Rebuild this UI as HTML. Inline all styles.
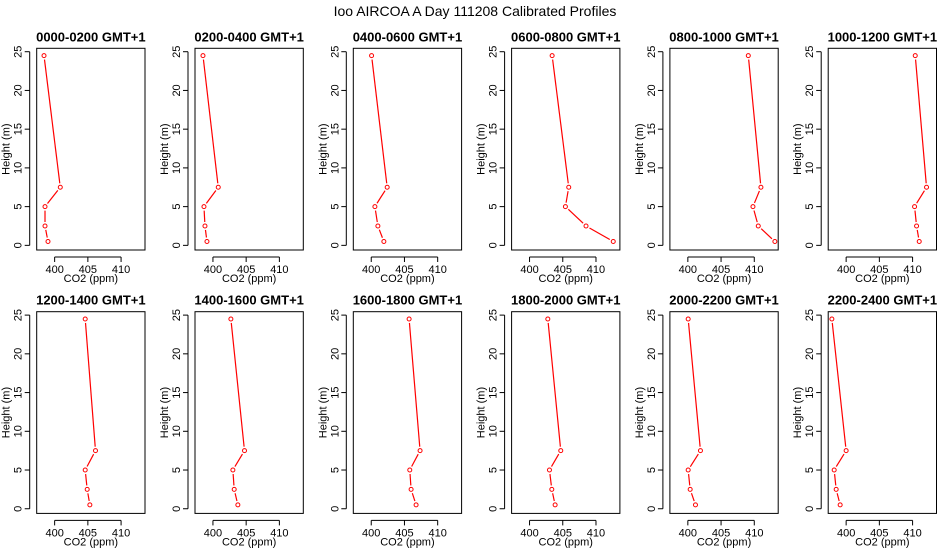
<!DOCTYPE html>
<html><head><meta charset="utf-8"><style>
body{margin:0;background:#fff;}
svg{display:block;font-family:"Liberation Sans",Arial,sans-serif;}
</style></head><body>
<svg id="c" width="950" height="550">
<text x="475" y="16" text-anchor="middle" font-size="14">Ioo AIRCOA A  Day 111208  Calibrated Profiles</text>
</svg>
<script>
const panelTitles=["0000-0200 GMT+1","0200-0400 GMT+1","0400-0600 GMT+1","0600-0800 GMT+1","0800-1000 GMT+1","1000-1200 GMT+1","1200-1400 GMT+1","1400-1600 GMT+1","1600-1800 GMT+1","1800-2000 GMT+1","2000-2200 GMT+1","2200-2400 GMT+1"];
const heights=[0.5,2.5,5,7.5,24.5];
const co2_0000=[399.0,398.55,398.55,400.85,398.4];
const co2_0200=[399.1,398.8,398.65,400.8,398.5];
const co2_0400=[401.9,401.0,400.55,402.4,400.05];
const co2_0600=[412.6,408.5,405.4,405.9,403.4];
const co2_0800=[413.1,410.6,409.8,411.0,409.1];
const co2_1000=[411.0,410.6,410.3,412.1,410.4];
const co2_1200=[405.3,404.9,404.6,406.15,404.6];
const co2_1400=[403.75,403.2,403.0,404.75,402.7];
const co2_1600=[406.75,406.0,405.8,407.35,405.7];
const co2_1800=[403.85,403.35,403.0,404.7,402.75];
const co2_2000=[401.15,400.35,400.05,401.9,400.05];
const co2_2200=[399.1,398.5,398.2,400.0,397.85];
const series=[co2_0000,co2_0200,co2_0400,co2_0600,co2_0800,co2_1000,co2_1200,co2_1400,co2_1600,co2_1800,co2_2000,co2_2200];
const xTicks=[400,405,410];
const yTicks=[0,5,10,15,20,25];
const XMIN=397.3,XMAX=413.6,YMIN=-0.6,YMAX=25.44;

const svg=document.getElementById('c');
const NS="http://www.w3.org/2000/svg";
function mk(tag,attrs,parent){const e=document.createElementNS(NS,tag);for(const k in attrs)e.setAttribute(k,attrs[k]);(parent||svg).appendChild(e);return e;}
const BW=108.3;
for(let p=0;p<12;p++){
  const col=p%6,row=Math.floor(p/6);
  const L=36.7+158.3*col, T=48.3+263.4*row, B=T+201.7;
  const sx=v=>L+(v-XMIN)/(XMAX-XMIN)*BW;
  const sy=v=>B-(v-YMIN)/(YMAX-YMIN)*(B-T);
  const g=mk('g',{});
  
  
  const r=mk('rect',{x:L,y:T,width:BW,height:B-T,fill:'none',stroke:'#000','stroke-width':1},g);
  
  
  const t=mk('text',{x:L+BW/2,y:T-7,'text-anchor':'middle','font-size':13,'font-weight':'bold'},g);
  t.textContent=panelTitles[p];
  
  
  mk('line',{x1:L-7,x2:L-7,y1:sy(0),y2:sy(25),stroke:'#000'},g);
  yTicks.forEach(v=>{
    const y=sy(v);
    mk('line',{x1:L-12,x2:L-7,y1:y,y2:y,stroke:'#000'},g);
    const tx=mk('text',{x:0,y:0,'text-anchor':'middle','font-size':11,transform:`translate(${L-15},${y}) rotate(-90)`},g);
    tx.textContent=v;
    
    
  });
  const yl=mk('text',{x:0,y:0,'text-anchor':'middle','font-size':11,transform:`translate(${L-27},${(T+B)/2}) rotate(-90)`},g);
  yl.textContent='Height (m)';
  
  
  mk('line',{x1:sx(400),x2:sx(410),y1:B+7,y2:B+7,stroke:'#000'},g);
  xTicks.forEach(v=>{
    const x=sx(v);
    mk('line',{x1:x,x2:x,y1:B+7,y2:B+12,stroke:'#000'},g);
    const tx=mk('text',{x:x,y:B+23,'text-anchor':'middle','font-size':11},g);
    tx.textContent=v;
    
    
  });
  const xl=mk('text',{x:L+BW/2,y:B+32,'text-anchor':'middle','font-size':11},g);
  xl.textContent='CO2 (ppm)';
  
  
  const d=series[p];
  for(let i=0;i<d.length-1;i++){
    const x1=sx(d[i]),y1=sy(heights[i]),x2=sx(d[i+1]),y2=sy(heights[i+1]);
    const len=Math.hypot(x2-x1,y2-y1),g2=4;
    if(len>2*g2){
      const ux=(x2-x1)/len,uy=(y2-y1)/len;
      const ln=mk('line',{x1:x1+ux*g2,y1:y1+uy*g2,x2:x2-ux*g2,y2:y2-uy*g2,stroke:'#f00','stroke-width':1.2},g);
      
      
    }
  }
  d.forEach((v,i)=>{
    const c=mk('circle',{cx:sx(v),cy:sy(heights[i]),r:2,fill:'none',stroke:'#f00','stroke-width':1},g);
    
    
  });
}
</script>
</body></html>
